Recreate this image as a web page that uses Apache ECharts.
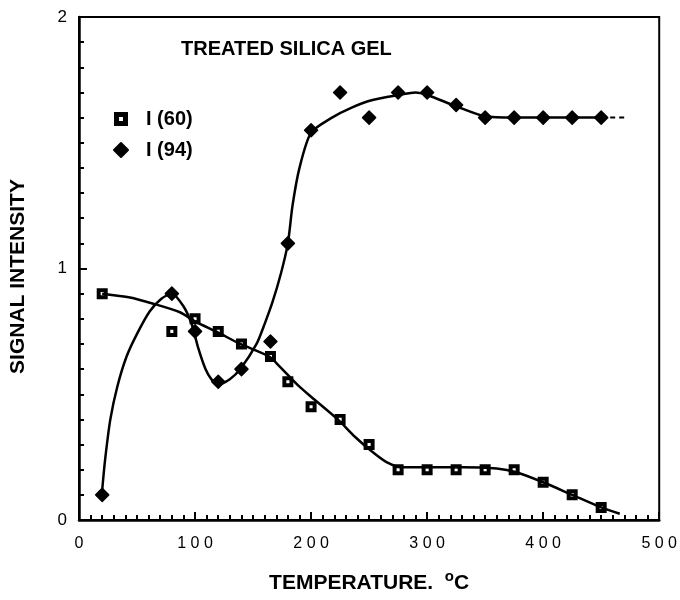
<!DOCTYPE html>
<html>
<head>
<meta charset="utf-8">
<script src="https://cdn.jsdelivr.net/npm/echarts@6/dist/echarts.min.js"></script>
<style>
html, body { margin: 0; padding: 0; background: #fff; }
#chart { width: 680px; height: 600px; }
</style>
</head>
<body>
<div id="chart"></div>
<script>
// measured points, [temperature, intensity]
let i60Points = [[20, 0.9], [80, 0.75], [100, 0.8], [120, 0.75], [140, 0.7], [165, 0.65], [180, 0.55], [200, 0.45], [225, 0.4], [250, 0.3], [275, 0.2], [300, 0.2], [325, 0.2], [350, 0.2], [375, 0.2], [400, 0.15], [425, 0.1], [450, 0.05]]
let i94Points = [[20, 0.1], [80, 0.9], [100, 0.75], [120, 0.55], [140, 0.6], [165, 0.71], [180, 1.1], [200, 1.55], [225, 1.7], [250, 1.6], [275, 1.7], [300, 1.7], [325, 1.65], [350, 1.6], [375, 1.6], [400, 1.6], [425, 1.6], [450, 1.6]]
// hand drawn fitted curves
let i60Curve = [[20, 0.9], [44, 0.885], [64, 0.86], [87, 0.826], [100, 0.79], [120, 0.745], [139, 0.7], [164, 0.65], [173, 0.61], [190, 0.53], [200, 0.49], [223, 0.4], [238, 0.33], [253, 0.27], [265, 0.23], [278, 0.21], [300, 0.21], [330, 0.21], [360, 0.205], [377, 0.19], [400, 0.15], [425, 0.1], [450, 0.05], [466, 0.025]]
let i94Curve = [[20, 0.12], [22.5, 0.24], [27, 0.4], [33, 0.53], [41, 0.65], [50, 0.74], [61, 0.83], [71, 0.88], [80, 0.9], [90, 0.85], [97, 0.78], [103, 0.68], [109, 0.6], [114, 0.56], [120, 0.54], [130, 0.56], [139, 0.6], [153, 0.7], [160, 0.78], [167, 0.87], [174, 0.98], [180, 1.1], [184, 1.25], [190, 1.4], [200, 1.54], [218, 1.6], [235, 1.64], [253, 1.67], [276, 1.69], [290, 1.7], [300, 1.69], [325, 1.645], [350, 1.605], [375, 1.6], [400, 1.6], [450, 1.6]]
let i94Tail = [[450, 1.6], [471, 1.6]]
let xTicks = [0, 100, 200, 300, 400, 500]
let yTicks = [0, 1, 2]

let squareIcon = 'path://M0,0H10V10H0Z M3.6,3.6V6.4H6.4V3.6Z'
let sans = '"Liberation Sans", Arial, Helvetica, sans-serif'

let chart = echarts.init(document.getElementById('chart'))
let option = {
	backgroundColor: '#fff',
	animation: false,
	title: {
		text: 'TREATED SILICA GEL',
		left: 176,
		top: 34,
		textStyle: { fontFamily: sans, fontWeight: 'bold', fontSize: 20, color: '#000' }
	},
	legend: {
		orient: 'vertical',
		left: 108,
		top: 104,
		itemWidth: 14,
		itemHeight: 14,
		itemGap: 11,
		data: ['I (60)', 'I (94)'],
		textStyle: { fontFamily: sans, fontWeight: 'bold', fontSize: 20, color: '#000', padding: [0, 0, 0, 13] }
	},
	grid: {
		left: 79,
		right: 20,
		top: 17,
		bottom: 80,
		show: true,
		borderColor: '#000',
		borderWidth: 2,
		backgroundColor: 'transparent'
	},
	xAxis: {
		type: 'value',
		min: 0,
		max: 500,
		interval: 100,
		name: 'TEMPERATURE.  {sup|o}C',
		nameLocation: 'middle',
		nameGap: 49,
		nameTextStyle: {
			fontFamily: sans, fontWeight: 'bold', fontSize: 21, color: '#000',
			rich: { sup: { fontFamily: sans, fontSize: 15, fontWeight: 'bold', color: '#000', padding: [0, 0, 14, 0] } }
		},
		axisLine: { show: true, lineStyle: { color: '#000', width: 2.5 } },
		axisTick: { show: true, inside: true, length: 8, lineStyle: { color: '#000', width: 2 } },
		minorTick: { show: true, splitNumber: 10, length: 5, lineStyle: { color: '#000', width: 2 } },
		axisLabel: {
			margin: 16,
			fontFamily: sans,
			fontSize: 16,
			color: '#000',
			formatter: v => xTicks.indexOf(v) >= 0 ? String(v).split('').join(' ') : ''
		},
		splitLine: { show: false }
	},
	yAxis: {
		type: 'value',
		min: 0,
		max: 2,
		interval: 1,
		name: 'SIGNAL INTENSITY',
		nameLocation: 'middle',
		nameGap: 50,
		nameTextStyle: { fontFamily: sans, fontWeight: 'bold', fontSize: 21, color: '#000', padding: [0, 16, 0, 0] },
		axisLine: { show: true, lineStyle: { color: '#000', width: 2.5 } },
		axisTick: { show: true, inside: true, length: 8, lineStyle: { color: '#000', width: 2 } },
		minorTick: { show: true, splitNumber: 10, length: 5, lineStyle: { color: '#000', width: 2 } },
		axisLabel: {
			margin: 12,
			fontFamily: sans,
			fontSize: 17,
			color: '#000',
			formatter: v => yTicks.indexOf(v) >= 0 ? String(v) : ''
		},
		splitLine: { show: false }
	},
	series: [
		{
			name: 'I (60) fit',
			type: 'line',
			smooth: 0.25,
			showSymbol: false,
			lineStyle: { color: '#000', width: 2.5 },
			data: i60Curve,
			z: 2
		},
		{
			name: 'I (94) fit',
			type: 'line',
			smooth: 0.25,
			showSymbol: false,
			lineStyle: { color: '#000', width: 2.5 },
			data: i94Curve,
			z: 2
		},
		{
			name: 'I (94) tail',
			type: 'line',
			showSymbol: false,
			lineStyle: { color: '#000', width: 2, type: [5, 4] },
			data: i94Tail,
			z: 2
		},
		{
			name: 'I (60)',
			type: 'scatter',
			symbol: squareIcon,
			symbolSize: 11,
			itemStyle: { color: '#000', opacity: 1 },
			data: i60Points,
			z: 3
		},
		{
			name: 'I (94)',
			type: 'scatter',
			symbol: 'diamond',
			symbolSize: 13,
			itemStyle: { color: '#000', opacity: 1, borderColor: '#000', borderWidth: 1.5, borderJoin: 'round' },
			data: i94Points,
			z: 3
		}
	]
}
chart.setOption(option)
</script>
</body>
</html>
